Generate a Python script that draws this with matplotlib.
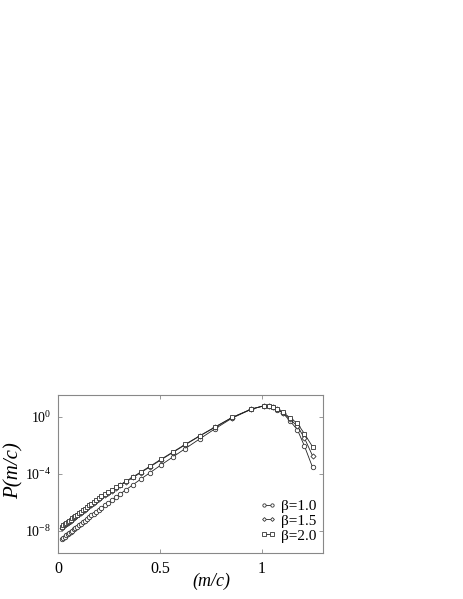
import numpy as np
import matplotlib
matplotlib.use("Agg")
import matplotlib.pyplot as plt

plt.rcParams["font.family"] = ["Liberation Serif", "DejaVu Serif"]
plt.rcParams["mathtext.fontset"] = "custom"
plt.rcParams["mathtext.rm"] = "Liberation Serif"
plt.rcParams["mathtext.it"] = "Liberation Serif:italic"

# m/c values (same grid for all three curves)
x_mc = [0.018, 0.025, 0.032, 0.039, 0.046, 0.053, 0.060, 0.068, 0.076, 0.084,
        0.092, 0.101, 0.110, 0.119, 0.129, 0.139, 0.150, 0.161, 0.173, 0.185,
        0.198, 0.212, 0.227, 0.243, 0.262, 0.283, 0.305, 0.332, 0.368, 0.405,
        0.450, 0.503, 0.561, 0.623, 0.695, 0.768, 0.853, 0.948, 1.010, 1.034,
        1.052, 1.076, 1.104, 1.138, 1.174, 1.209, 1.249]

# log10 P(m/c)
logp_b10 = [-8.60, -8.51, -8.43, -8.34, -8.26, -8.18, -8.09, -8.00, -7.91, -7.81,
            -7.72, -7.62, -7.51, -7.41, -7.29, -7.18, -7.05, -6.93, -6.80, -6.66,
            -6.53, -6.38, -6.22, -6.06, -5.86, -5.64, -5.41, -5.13, -4.76, -4.38,
            -3.93, -3.40, -2.84, -2.24, -1.55, -0.86, -0.10, 0.53, 0.77, 0.75,
            0.67, 0.50, 0.25, -0.30, -0.90, -2.06, -3.56]
logp_b15 = [-7.78, -7.69, -7.61, -7.53, -7.45, -7.37, -7.29, -7.20, -7.11, -7.02,
            -6.93, -6.83, -6.73, -6.63, -6.52, -6.41, -6.29, -6.17, -6.05, -5.92,
            -5.79, -5.66, -5.52, -5.37, -5.20, -5.01, -4.82, -4.58, -4.26, -3.92,
            -3.52, -3.04, -2.52, -1.97, -1.35, -0.75, -0.06, 0.54, 0.77, 0.76,
            0.68, 0.52, 0.29, -0.18, -0.65, -1.50, -2.75]
logp_b20 = [-7.72, -7.63, -7.55, -7.47, -7.39, -7.31, -7.23, -7.14, -7.05, -6.96,
            -6.87, -6.77, -6.67, -6.57, -6.46, -6.35, -6.23, -6.11, -5.99, -5.86,
            -5.73, -5.60, -5.46, -5.32, -5.15, -4.96, -4.77, -4.53, -4.21, -3.88,
            -3.48, -3.00, -2.49, -1.94, -1.33, -0.73, -0.05, 0.54, 0.77, 0.76,
            0.69, 0.53, 0.32, -0.08, -0.45, -1.20, -2.11]

labels = ["\u03b2=1.0", "\u03b2=1.5", "\u03b2=2.0"]
markers = ["o", "D", "s"]
msizes = [3.2, 2.6, 3.0]

fig = plt.figure(figsize=(4.63, 5.99), dpi=100)
ax = fig.add_axes([0.126, 0.0768, 0.5716, 0.2638])

for logp, lab, mk, ms in zip([logp_b10, logp_b15, logp_b20], labels, markers, msizes):
    ax.plot(x_mc, 10 ** np.array(logp), color="#222222", lw=0.6,
            marker=mk, ms=ms, mfc="white", mec="#333333", mew=0.6, label=lab)

ax.set_yscale("log")
ax.set_xlim(0, 1.30)
ax.set_ylim(10 ** -9.57, 10 ** 1.53)
ax.set_xticks([0, 0.5, 1])
ax.set_xticklabels(["0", "0.5", "1"])
ax.set_yticks([1e-8, 1e-4, 1e0])
ax.set_yticklabels([r"$10^{-8}$", r"$10^{-4}$", r"$10^{0}$"])
ax.minorticks_off()
ax.tick_params(direction="in", length=3, width=0.6, color="#888888",
               top=True, right=True, pad=6)
ax.tick_params(axis="x", labelsize=11.5)
ax.tick_params(axis="y", labelsize=10, pad=5)
for sp in ax.spines.values():
    sp.set_color("#888888")
    sp.set_linewidth(0.8)

ax.set_xlabel("(m/c)", fontsize=13, fontstyle="italic")
ax.xaxis.set_label_coords(0.58, -0.125)
ax.set_ylabel("P(m/c)", fontsize=15, fontstyle="italic")
ax.yaxis.set_label_coords(-0.13, 0.52)

ax.legend(loc="lower right", bbox_to_anchor=(0.975, 0.065), frameon=False,
          numpoints=2, handlelength=1.1, handletextpad=0.3, labelspacing=0.08,
          markerscale=0.75, borderaxespad=0, borderpad=0, fontsize=11)

fig.savefig("out.png", dpi=100)
